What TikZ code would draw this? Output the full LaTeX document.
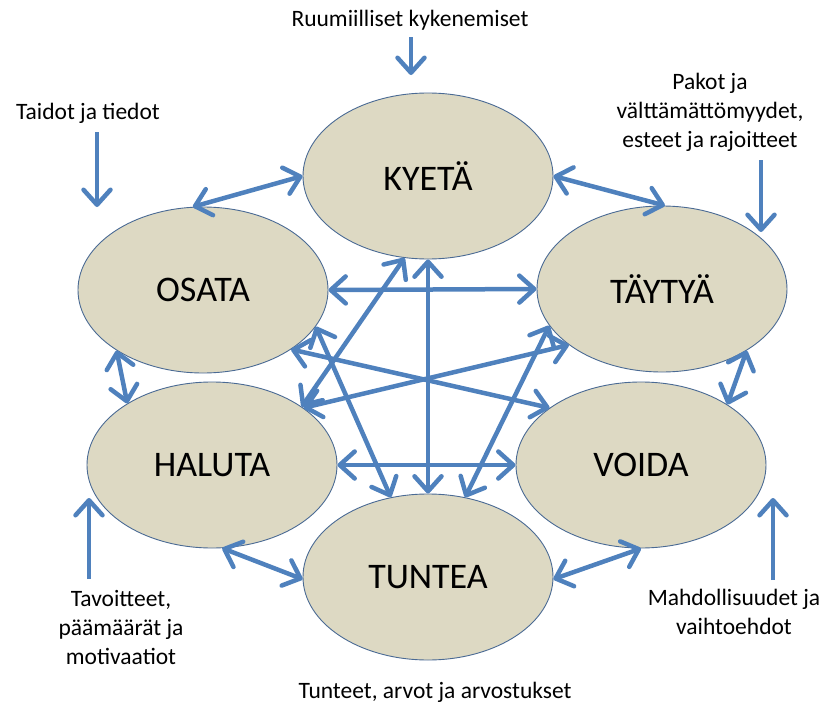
\documentclass[tikz,border=0pt]{standalone}
\usepackage{fontspec}
\setmainfont{Carlito}
\usetikzlibrary{arrows.meta,shapes.geometric}
\definecolor{lineblue}{HTML}{4F81BD}
\definecolor{ellfill}{HTML}{DDD9C3}
\definecolor{ellborder}{HTML}{4A6A94}
\begin{document}
\begin{tikzpicture}[x=1pt,y=-1pt,
  bubble/.style={ellipse, draw=ellborder, line width=0.9pt, fill=ellfill,
    minimum width=250pt, minimum height=166pt, inner sep=0pt,
    font=\fontsize{36}{43}\selectfont},
  lab/.style={align=center, inner sep=0pt, anchor=base,
    font=\fontsize{23.5}{29}\selectfont},
  tip/.tip={Straight Barb[length=15pt,width=27pt,line width=4.5pt,round]},
  link/.style={draw=lineblue, line width=4.5pt, tip-tip},
  feed/.style={draw=lineblue, line width=4.5pt, -tip}
]
\useasboundingbox (0,0) rectangle (823,704);

\node[bubble] (KY) at (428,176) {KYETÄ};
\node[bubble] (OS) at (203,290) {OSATA};
\node[bubble] (TA) at (662,289) {TÄYTYÄ};
\node[bubble] (HA) at (212,465) {HALUTA};
\node[bubble] (VO) at (641,465) {VOIDA};
\node[bubble] (TU) at (428,577) {TUNTEA};

\node[lab] (L1) at (410,27) {Ruumiilliset kykenemiset};
\node[lab] (L2) at (88,119) {Taidot ja tiedot};
\node[lab] (L3) at (710,147) {Pakot ja\\välttämättömyydet,\\esteet ja rajoitteet};
\node[lab] (L4) at (121,664) {Tavoitteet,\\päämäärät ja\\motivaatiot};
\node[lab] (L5) at (734,634) {Mahdollisuudet ja\\vaihtoehdot};
\node[lab] (L6) at (435,698) {Tunteet, arvot ja arvostukset};

\draw[link] (KY.180) -- (OS.97);
\draw[link] (KY.0) -- (TA.88);
\draw[link] (OS.0) -- (TA.180);
\draw[link] (OS.215) -- (HA.144.5);
\draw[link] (TA.-36) -- (VO.35);
\draw[link] (HA.-83) -- (TU.181);
\draw[link] (VO.-90) -- (TU.-1);
\draw[link] (HA.0) -- (VO.180);
\draw[link] (KY.-90) -- (TU.90);
\draw[link] (KY.-106) -- (HA.33);
\draw[link] (OS.-18) -- (TU.115);
\draw[link] (TA.198) -- (TU.65);
\draw[link] (OS.-34) -- (VO.148);
\draw[link] (HA.32) -- (TA.211.5);

\coordinate (f1a) at (411,37);  \coordinate (f1b) at (411,75);
\coordinate (f2a) at (97,132);  \coordinate (f2b) at (97,207);
\coordinate (f3a) at (761,160); \coordinate (f3b) at (761,232);
\coordinate (f4a) at (89,579);  \coordinate (f4b) at (89,498);
\coordinate (f5a) at (773,580); \coordinate (f5b) at (773,498);
\draw[feed] (f1a) -- (f1b);
\draw[feed] (f2a) -- (f2b);
\draw[feed] (f3a) -- (f3b);
\draw[feed] (f4a) -- (f4b);
\draw[feed] (f5a) -- (f5b);
\end{tikzpicture}
\end{document}
